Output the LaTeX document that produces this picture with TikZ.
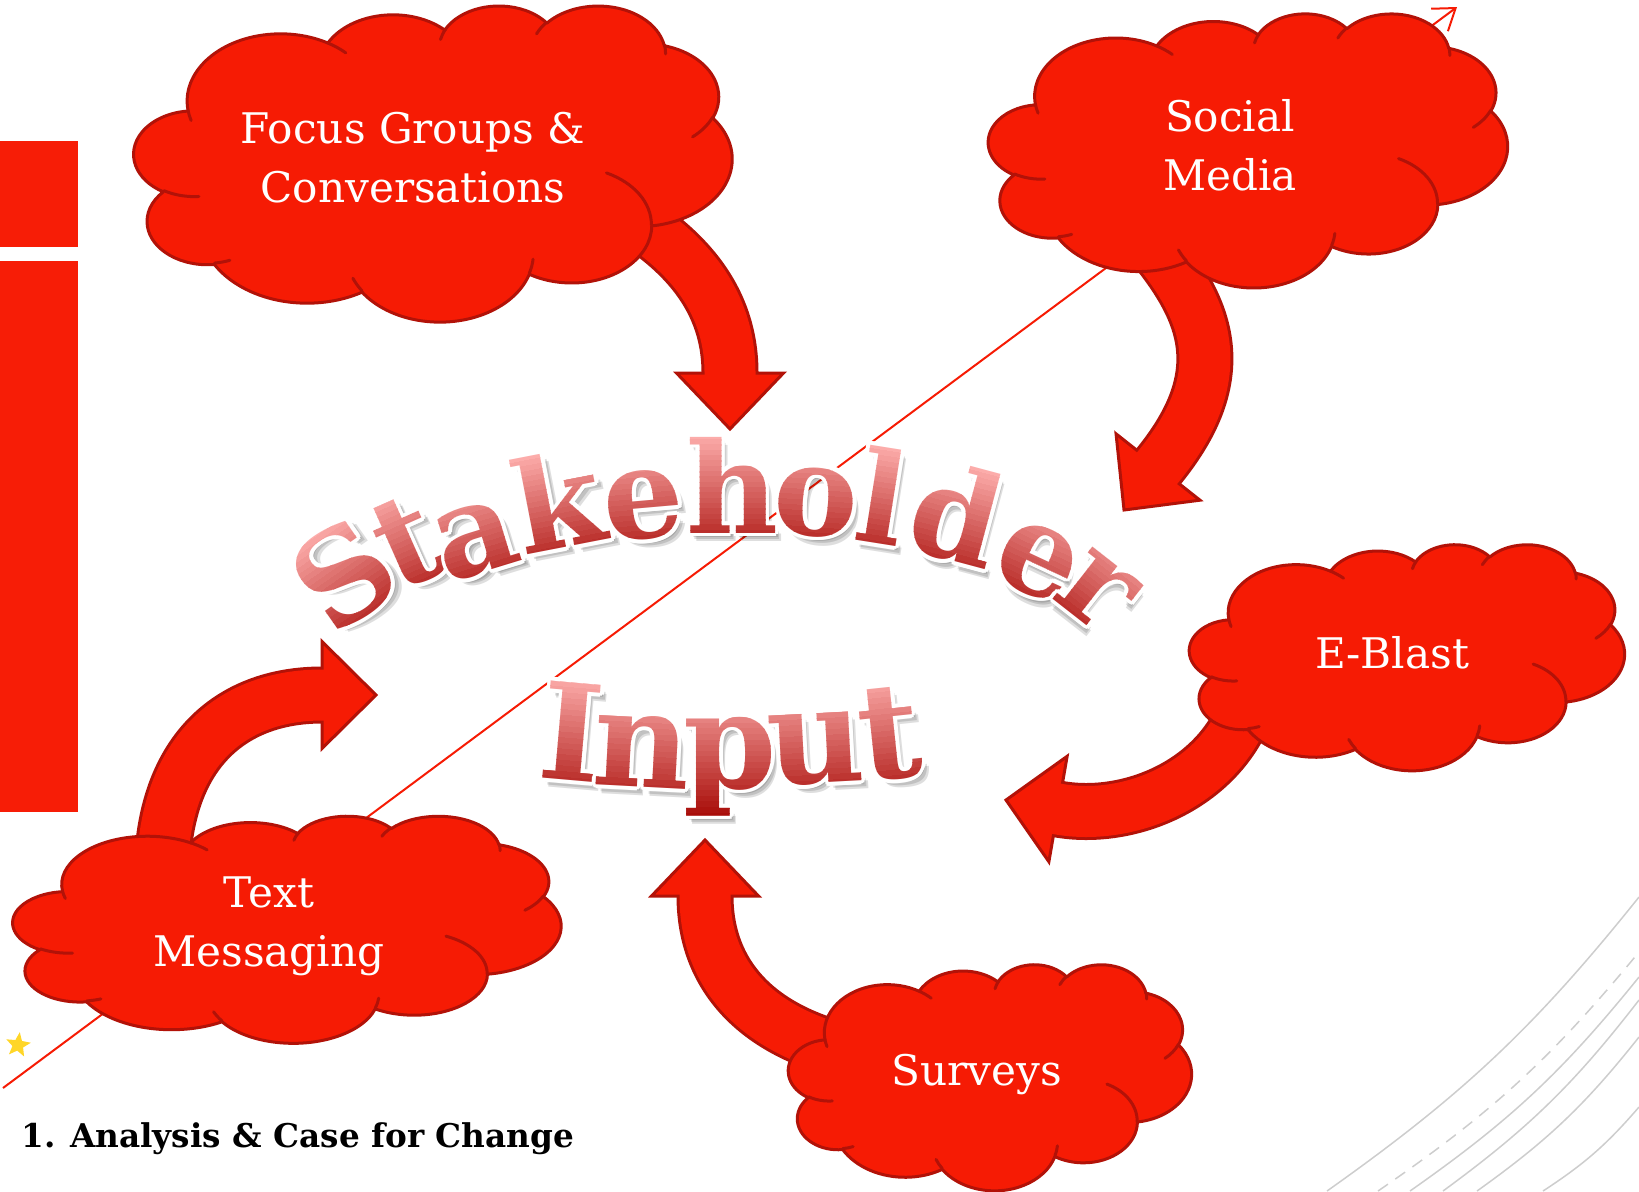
\documentclass[tikz,border=0pt]{standalone}
\usepackage{fontspec}
\setmainfont{DejaVu Serif}
\usetikzlibrary{shapes.geometric,calc,backgrounds,arrows.meta}

\definecolor{cloudred}{RGB}{246,27,4}
\definecolor{clouddark}{RGB}{178,18,8}
\definecolor{barred}{RGB}{247,29,6}
\definecolor{wordtop}{RGB}{252,172,170}
\definecolor{wordbot}{RGB}{168,12,8}
\definecolor{fadegrey}{RGB}{205,205,205}
\definecolor{sparkyellow}{RGB}{255,214,40}

\begin{document}
\begin{tikzpicture}[x=0.1mm, y=-0.1mm,
    bubble/.style={fill=cloudred, draw=clouddark, line width=0.3mm, line join=round},
    bubbleline/.style={draw=clouddark, line width=0.3mm, line cap=round},
    cloudtext/.style={text=white, align=center, font=\fontsize{12}{16.8}\selectfont},
    bandedge/.style={draw=clouddark, line width=5.7mm},
    bandfill/.style={draw=cloudred, line width=5.1mm},
    headtip/.style={fill=cloudred, draw=clouddark, line width=0.3mm, line join=miter},
    letter/.style={anchor=base, inner sep=0pt, transform shape}]
    \useasboundingbox (0,0) rectangle (1639,1191);

    % the five input clouds, one outline drawn in a 432 x 432 box
    \foreach \name/\cx/\cy/\w/\h in {focus/433/163/598/316, social/1248/150/519/274,
        eblast/1407/657/435/226, texting/287/929/548/227, surveys/990/1077/403/226}{
        \begin{scope}[shift={({\cx-\w/2},{\cy-\h/2})}, xscale=\w/432, yscale=\h/432]
            \filldraw[bubble] (39.00,143.70)
                arc[start angle=-187.75, end angle=-59.66, x radius=67.53, y radius=91.90]
                arc[start angle=-152.03, end angle=-45.48, x radius=53.33, y radius=72.67]
                arc[start angle=-153.48, end angle=-37.32, x radius=43.65, y radius=59.45]
                arc[start angle=-139.71, end angle=-10.21, x radius=48.57, y radius=65.95]
                arc[start angle=-74.78, end angle=23.20, x radius=53.33, y radius=72.73]
                arc[start angle=-37.54, end angle=81.86, x radius=67.75, y radius=92.20]
                arc[start angle=0.46, end angle=121.97, x radius=57.85, y radius=78.67]
                arc[start angle=16.84, end angle=146.25, x radius=67.52, y radius=92.15]
                arc[start angle=59.02, end angle=150.17, x radius=77.20, y radius=105.43]
                arc[start angle=-276.69, end angle=-136.91, x radius=43.60, y radius=59.18]
                arc[start angle=-239.65, end angle=-95.89, x radius=43.45, y radius=59.45]
                -- cycle;
            % creases between the puffs
            \draw[bubbleline]
                (46.93,261.77) arc[start angle=85.55, end angle=120.35, x radius=43.45, y radius=59.45]
                (69.28,348.99) arc[start angle=68.23, end angle=83.31, x radius=43.60, y radius=59.18]
                (164.78,390.90) arc[start angle=146.25, end angle=158.47, x radius=67.52, y radius=92.15]
                (288.27,347.51) arc[start angle=4.74, end angle=16.84, x radius=67.52, y radius=92.15]
                (341.29,229.54) arc[start angle=-63.99, end angle=0.46, x radius=57.85, y radius=78.67]
                (417.98,153.54) arc[start angle=23.20, end angle=49.64, x radius=53.33, y radius=72.73]
                (383.24,54.26) arc[start angle=-10.21, end angle=0.82, x radius=48.57, y radius=65.95]
                (290.78,39.52) arc[start angle=-156.28, end angle=-139.71, x radius=48.57, y radius=65.95]
                (221.41,47.20) arc[start angle=-167.73, end angle=-153.48, x radius=43.65, y radius=59.45]
                (140.00,51.92) arc[start angle=-59.66, end angle=-45.74, x radius=67.53, y radius=91.90]
                (41.27,157.89) arc[start angle=163.19, end angle=172.25, x radius=67.53, y radius=91.90];
            \node[inner sep=0pt] (\name) at (216,216) {};
        \end{scope}
    }

    \node[cloudtext] (focus-txt) at (413,158) {Focus Groups \&\\Conversations};
    \node[cloudtext] (social-txt) at (1230,145) {Social\\Media};
    \node[cloudtext] (eblast-txt) at (1392,653) {E-Blast};
    \node[cloudtext] (texting-txt) at (269,926) {Text\\Messaging};
    \node[cloudtext] (surveys-txt) at (977,1075) {Surveys};

    \begin{scope}[on background layer]
        % side bars
        \fill[barred] (0,141) rectangle (78,247);
        \fill[barred] (0,261) rectangle (78,812);
        % faint swoosh lines, lower right
        \draw[fadegrey, line width=0.15mm] (1327,1191) to[bend right=8] (1639,897);
        \draw[fadegrey, line width=0.15mm, dash pattern=on 1.2mm off 0.9mm] (1378,1191) to[bend right=8] (1639,952);
        \draw[fadegrey, line width=0.15mm] (1410,1191) to[bend right=8] (1639,977);
        \draw[fadegrey, line width=0.15mm] (1443,1191) to[bend right=8] (1639,1000);
        \draw[fadegrey, line width=0.15mm] (1477,1191) to[bend right=8] (1639,1037);
        \draw[fadegrey, line width=0.15mm] (1543,1191) to[bend right=8] (1639,1107);
        % thin diagonal
        \draw[cloudred, line width=0.2mm, -{Straight Barb[length=2mm,width=2.8mm]}] (3,1088) -- (1457,7);
        \node[star, star points=5, star point ratio=2.3, fill=sparkyellow, inner sep=0pt,
            minimum size=2.6mm, rotate=-8] (spark) at (18,1045) {};

        % curved block arrows into the middle
        \coordinate (fg-end) at (730,373);
        \coordinate (fg-tip) at (730,429);
        \draw[bandedge] ([shift={(184,46)}]focus.center) .. controls (690,251) and (730,303) .. (fg-end);
        \filldraw[headtip] ($(fg-end)!5.35mm!90:(fg-tip)$) -- (fg-tip) -- ($(fg-end)!5.35mm!-90:(fg-tip)$) -- cycle;
        \draw[bandfill] ([shift={(184,46)}]focus.center) .. controls (690,251) and (730,303) .. (fg-end) -- ($(fg-end)!0.8mm!(fg-tip)$);

        \coordinate (sm-end) at (1158,467);
        \coordinate (sm-tip) at (1124,510);
        \draw[bandedge] ([shift={(-103,85)}]social.center) .. controls (1202,303) and (1239,368) .. (sm-end);
        \filldraw[headtip] ($(sm-end)!5.35mm!90:(sm-tip)$) -- (sm-tip) -- ($(sm-end)!5.35mm!-90:(sm-tip)$) -- cycle;
        \draw[bandfill] ([shift={(-103,85)}]social.center) .. controls (1202,303) and (1239,368) .. (sm-end) -- ($(sm-end)!0.8mm!(sm-tip)$);

        \coordinate (eb-end) at (1058,809);
        \coordinate (eb-tip) at (1006,800);
        \draw[bandedge] ([shift={(-158,43)}]eblast.center) .. controls (1223,784) and (1129,822) .. (eb-end);
        \filldraw[headtip] ($(eb-end)!5.35mm!90:(eb-tip)$) -- (eb-tip) -- ($(eb-end)!5.35mm!-90:(eb-tip)$) -- cycle;
        \draw[bandfill] ([shift={(-158,43)}]eblast.center) .. controls (1223,784) and (1129,822) .. (eb-end) -- ($(eb-end)!0.8mm!(eb-tip)$);

        \coordinate (sv-end) at (705,896);
        \coordinate (sv-tip) at (705,840);
        \draw[bandedge] ([shift={(-122,-21)}]surveys.center) .. controls (753,1035) and (705,972) .. (sv-end);
        \filldraw[headtip] ($(sv-end)!5.35mm!90:(sv-tip)$) -- (sv-tip) -- ($(sv-end)!5.35mm!-90:(sv-tip)$) -- cycle;
        \draw[bandfill] ([shift={(-122,-21)}]surveys.center) .. controls (753,1035) and (705,972) .. (sv-end) -- ($(sv-end)!0.8mm!(sv-tip)$);

        \coordinate (tm-end) at (322,695);
        \coordinate (tm-tip) at (376,695);
        \draw[bandedge] ([shift={(-125,-51)}]texting.center) .. controls (162,753) and (230,695) .. (tm-end);
        \filldraw[headtip] ($(tm-end)!5.35mm!90:(tm-tip)$) -- (tm-tip) -- ($(tm-end)!5.35mm!-90:(tm-tip)$) -- cycle;
        \draw[bandfill] ([shift={(-125,-51)}]texting.center) .. controls (162,753) and (230,695) .. (tm-end) -- ($(tm-end)!0.8mm!(tm-tip)$);
    \end{scope}

    % arched title, letter by letter: soft shadow, white rim, then a banded gradient
    \foreach \ch/\x/\y/\a/\s in {S/370/612/35/36, t/424/581/24/36, a/486/572/17/36,
        k/567/547/11/36, e/647/538/5/36, h/732/533/0/36, o/814/535/-4/36, l/875/543/-9/36,
        d/945/559/-15/36, e/1024/591/-25/36, r/1076/617/-38/36,
        I/568/780/-5/38, n/640/787/-3/38, p/730/788/0/38, u/818/783/3/38, t/894/778/6/38}{
        \begin{scope}[shift={(\x,\y)}, rotate=\a,
            every node/.append style={letter, font=\bfseries\fontsize{\s}{\s}\selectfont}]
            \foreach \d in {0.9,1.4,1.9}
                \node[text=black, opacity=.13] at (\d pt,-1.3*\d pt) {\ch};
            \foreach \r in {0,30,...,330}
                \node[text=white] at (\r:1.1pt) {\ch};
            \foreach \k in {0,...,23}{
                \pgfmathsetmacro\ytop{(0.78-0.0421*\k)*\s}
                \pgfmathsetmacro\ybot{\ytop-0.047*\s}
                \pgfmathtruncatemacro\mix{100-4.3*\k}
                \begin{scope}
                    \clip (-1cm,\ytop pt) rectangle (1cm,\ybot pt);
                    \node[text=wordtop!\mix!wordbot] at (0,0) {\ch};
                \end{scope}
            }
        \end{scope}
    }

    \node[anchor=base west, font=\bfseries\fontsize{9.3}{11}\selectfont] (phase) at (9,1147)
        {1.\hspace{0.45em}Analysis \& Case for Change};
\end{tikzpicture}
\end{document}
